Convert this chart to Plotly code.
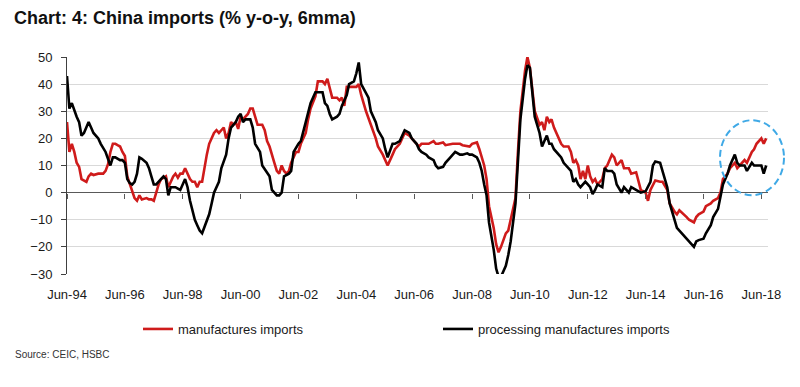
import plotly.graph_objects as go

# ---------------- data ----------------
tick_dates = ["1994-06-01", "1996-06-01", "1998-06-01", "2000-06-01", "2002-06-01",
              "2004-06-01", "2006-06-01", "2008-06-01", "2010-06-01", "2012-06-01",
              "2014-06-01", "2016-06-01", "2018-06-01"]
tick_labels = ["Jun-94", "Jun-96", "Jun-98", "Jun-00", "Jun-02", "Jun-04", "Jun-06",
               "Jun-08", "Jun-10", "Jun-12", "Jun-14", "Jun-16", "Jun-18"]

manuf_dates = [
    "1994-06", "1994-07", "1994-08", "1994-09", "1994-10", "1994-11", "1994-12",
    "1995-01", "1995-02", "1995-03", "1995-04", "1995-05", "1995-07", "1995-09", "1995-10", "1995-11", "1995-12",
    "1996-01", "1996-02", "1996-03", "1996-04", "1996-05", "1996-06", "1996-07", "1996-08", "1996-09", "1996-10", "1996-11", "1996-12",
    "1997-01", "1997-03", "1997-04", "1997-05", "1997-06", "1997-07", "1997-08", "1997-09", "1997-11", "1997-12",
    "1998-01", "1998-02", "1998-03", "1998-04", "1998-05", "1998-06", "1998-07", "1998-08", "1998-09", "1998-10", "1998-11", "1998-12",
    "1999-01", "1999-02", "1999-03", "1999-04", "1999-05", "1999-06", "1999-07", "1999-08", "1999-09", "1999-10", "1999-11", "1999-12",
    "2000-01", "2000-02", "2000-03", "2000-04", "2000-05", "2000-06", "2000-07", "2000-09", "2000-10", "2000-11", "2000-12",
    "2001-01", "2001-03", "2001-04", "2001-05", "2001-06", "2001-08", "2001-09", "2001-10", "2001-11", "2001-12",
    "2002-01", "2002-02", "2002-03", "2002-05", "2002-06", "2002-07", "2002-09", "2002-10", "2002-11",
    "2003-01", "2003-02", "2003-04", "2003-05", "2003-06", "2003-07", "2003-08", "2003-10", "2003-11", "2003-12",
    "2004-01", "2004-02", "2004-03", "2004-05", "2004-06", "2004-07", "2004-08", "2004-10", "2004-11", "2004-12",
    "2005-02", "2005-03", "2005-05", "2005-06", "2005-07", "2005-09", "2005-10", "2005-12",
    "2006-01", "2006-02", "2006-04", "2006-05", "2006-07", "2006-08", "2006-09", "2006-11", "2006-12",
    "2007-02", "2007-03", "2007-04", "2007-06", "2007-07", "2007-09", "2007-10", "2007-11",
    "2008-01", "2008-02", "2008-04", "2008-05", "2008-06", "2008-08", "2008-09", "2008-10", "2008-11", "2008-12",
    "2009-01", "2009-03", "2009-04", "2009-05", "2009-06", "2009-08", "2009-09", "2009-10", "2009-12",
    "2010-01", "2010-02", "2010-04", "2010-05", "2010-06", "2010-07", "2010-08", "2010-10", "2010-11", "2010-12",
    "2011-01", "2011-02", "2011-03", "2011-04", "2011-05", "2011-07", "2011-08", "2011-10", "2011-11", "2011-12",
    "2012-01", "2012-02", "2012-03", "2012-04", "2012-05", "2012-06", "2012-07", "2012-08", "2012-09", "2012-10", "2012-12",
    "2013-01", "2013-02", "2013-04", "2013-05", "2013-06", "2013-08", "2013-09", "2013-11", "2013-12",
    "2014-02", "2014-03", "2014-04", "2014-06", "2014-07", "2014-08", "2014-09", "2014-10", "2014-12",
    "2015-01", "2015-03", "2015-04", "2015-06", "2015-07", "2015-08", "2015-10", "2015-11", "2015-12",
    "2016-02", "2016-03", "2016-04", "2016-06", "2016-07", "2016-09", "2016-10", "2016-12",
    "2017-01", "2017-02", "2017-04", "2017-05", "2017-07", "2017-08", "2017-09", "2017-11", "2017-12",
    "2018-02", "2018-03", "2018-04", "2018-06", "2018-07", "2018-08",
]
manuf_values = [
    26, 15, 18, 15, 11, 9.5, 5,
    4.5, 4, 6, 7, 6.5, 7, 7, 8, 10.5, 15,
    18, 18, 17.5, 17, 15, 13.5, 6, 3, 0, -2, -3, -1,
    -2.5, -2, -2.5, -2.5, -3, 0, 3, 5, 6, 2,
    4, 6, 7, 5.5, 7, 7, 9, 7, 5, 4, 4, 2,
    4, 4, 9, 14, 18, 20, 22, 23, 22, 23, 24, 20,
    22, 26, 25, 26, 23.5, 28, 27, 29, 31, 31, 28,
    25, 25, 23, 19, 17, 11, 8, 7, 10, 8,
    7, 8, 11, 15, 15, 18, 22, 27, 31,
    35.5, 41, 41, 40, 42, 38, 35, 35, 34, 35,
    32, 39, 39, 39, 39, 40, 36, 30, 27, 25,
    20, 17, 14, 12, 10, 14, 16, 18,
    20, 22, 21, 20, 18, 17, 18, 18, 18,
    19, 18, 18, 18.5, 17.5, 18, 18, 18,
    18, 17.5, 17, 17, 18, 18.5, 16, 13, 10, 5,
    -5, -13, -19, -22, -20, -15, -14, -10, -2,
    15, 30, 45, 50, 46, 38, 30, 25, 26, 23,
    28, 26, 27, 24, 22, 18, 17, 17, 15, 11,
    12, 10, 5, 8, 5, 10, 6, 4, 5, 3, 5,
    9, 10, 14, 13, 10, 12, 9, 9, 7,
    7.5, 4, 1, 0, -3, 1, 3, 4.5, 4,
    4, 1, -4, -7, -8, -6.5, -8, -9, -10,
    -11, -9, -8, -7, -5, -4, -3, -2,
    0, 5, 7, 9, 11, 9, 10, 12, 11,
    15, 16, 18, 20, 18, 20,
]

proc_dates = [
    "1994-06", "1994-07", "1994-08", "1994-09", "1994-10", "1994-11", "1994-12",
    "1995-01", "1995-03", "1995-04", "1995-05", "1995-07", "1995-08", "1995-10", "1995-11", "1995-12",
    "1996-01", "1996-02", "1996-04", "1996-05", "1996-06", "1996-07", "1996-08", "1996-09", "1996-10", "1996-11", "1996-12",
    "1997-01", "1997-03", "1997-04", "1997-05", "1997-06", "1997-07", "1997-09", "1997-10", "1997-11", "1997-12",
    "1998-01", "1998-03", "1998-04", "1998-05", "1998-07", "1998-08", "1998-09", "1998-10", "1998-11", "1998-12",
    "1999-01", "1999-02", "1999-03", "1999-05", "1999-06", "1999-07", "1999-09", "1999-10", "1999-12",
    "2000-01", "2000-02", "2000-04", "2000-05", "2000-06", "2000-07", "2000-08", "2000-10", "2000-11", "2000-12",
    "2001-02", "2001-03", "2001-05", "2001-06", "2001-07", "2001-09", "2001-10", "2001-11", "2001-12",
    "2002-02", "2002-03", "2002-04", "2002-06", "2002-07", "2002-09", "2002-10", "2002-11",
    "2003-01", "2003-02", "2003-04", "2003-05", "2003-06", "2003-07", "2003-08", "2003-10", "2003-11", "2003-12",
    "2004-01", "2004-02", "2004-03", "2004-05", "2004-06", "2004-07", "2004-08", "2004-10", "2004-11", "2004-12",
    "2005-02", "2005-03", "2005-05", "2005-06", "2005-07", "2005-09", "2005-10", "2005-12",
    "2006-01", "2006-02", "2006-04", "2006-05", "2006-07", "2006-08", "2006-09", "2006-11", "2006-12",
    "2007-02", "2007-03", "2007-04", "2007-06", "2007-07", "2007-09", "2007-10", "2007-11",
    "2008-01", "2008-02", "2008-04", "2008-05", "2008-06", "2008-08", "2008-09", "2008-10", "2008-11", "2008-12",
    "2009-01", "2009-03", "2009-04", "2009-05", "2009-06", "2009-08", "2009-09", "2009-10", "2009-12",
    "2010-01", "2010-02", "2010-04", "2010-05", "2010-06", "2010-07", "2010-08", "2010-10", "2010-11", "2010-12",
    "2011-01", "2011-02", "2011-03", "2011-04", "2011-05", "2011-07", "2011-08", "2011-10", "2011-11", "2011-12",
    "2012-01", "2012-02", "2012-03", "2012-04", "2012-05", "2012-06", "2012-07", "2012-08", "2012-09", "2012-10", "2012-12",
    "2013-01", "2013-02", "2013-04", "2013-05", "2013-06", "2013-08", "2013-09", "2013-11", "2013-12",
    "2014-02", "2014-03", "2014-04", "2014-06", "2014-07", "2014-08", "2014-09", "2014-10", "2014-12",
    "2015-01", "2015-03", "2015-04", "2015-06", "2015-07", "2015-08", "2015-10", "2015-11", "2015-12",
    "2016-02", "2016-03", "2016-04", "2016-06", "2016-07", "2016-09", "2016-10", "2016-12",
    "2017-01", "2017-02", "2017-04", "2017-05", "2017-07", "2017-08", "2017-09", "2017-11", "2017-12",
    "2018-02", "2018-03", "2018-04", "2018-06", "2018-07", "2018-08",
]
proc_values = [
    43, 31, 33, 30, 28, 26, 21,
    22, 26, 24, 22, 20, 18, 15, 12, 10,
    13, 13, 12, 12, 11, 5, 3.5, 3, 4, 7, 13,
    12.5, 11, 9, 6, 3, 3, 5, 6, 5, -1,
    2, 2, 1.5, 1, 5, 2, -3, -7, -10, -12,
    -14, -15, -13, -8, -4, 0, 4, 9, 14,
    20, 24, 26, 28, 29, 26, 27, 27, 24, 18,
    15, 10, 7, 6, 1, -1, -1, 0, 6,
    7, 8, 15, 18, 19, 26, 30, 33,
    37, 37, 37, 33, 32, 29, 27, 28, 29, 32,
    34, 36, 40, 41, 44, 48, 40, 37, 35, 30,
    26, 23, 20, 16, 13, 18, 18, 19,
    21, 23, 22, 20, 18, 16, 15, 14, 13,
    12, 10, 9, 9.5, 11, 13, 14, 15,
    14, 14, 14.5, 14, 14, 13, 11, 8, 3, -1,
    -11, -21, -28, -31, -31, -27, -23, -18, -4,
    10, 27, 42, 47, 46, 37, 28, 22, 17, 19,
    21, 18, 18, 16, 15, 13, 11, 9, 8, 4,
    5, 3, 2, 3, 4, 3, 2, -0.5, 1, 3, 2,
    9, 8, 8, 7, 3, 0, 2, 0, 2,
    1, 0.5, 0, 0.5, 2, 4, 10, 11.5, 11,
    8, 2, -4, -10, -13, -14, -16, -17, -18,
    -20, -18, -17.5, -17, -15, -12, -9, -6,
    -2, 3, 7, 10, 14, 11, 10, 10, 8,
    11, 10, 10, 10, 7, 10,
]

assert len(manuf_dates) == len(manuf_values)
assert len(proc_dates) == len(proc_values)

# ---------------- styling ----------------
FONT = "Liberation Sans, Arial, Helvetica, sans-serif"
RED = "#cf1b1b"
BLACK = "#000000"
X_RANGE = ["1994-06-01", "2018-08-24"]

fig = go.Figure()
fig.add_trace(go.Scatter(x=manuf_dates, y=manuf_values, name="manufactures imports",
                         mode="lines", line=dict(color=RED, width=2.6)))
fig.add_trace(go.Scatter(x=proc_dates, y=proc_values, name="processing manufactures imports",
                         mode="lines", line=dict(color=BLACK, width=2.6)))
# carrier trace for the tick marks drawn on the zero line
fig.add_trace(go.Scatter(x=[], y=[], xaxis="x2", showlegend=False, hoverinfo="skip"))

fig.update_layout(
    width=800, height=387,
    margin=dict(l=67, r=32, t=57, b=107, pad=0),
    paper_bgcolor="white", plot_bgcolor="white",
    font=dict(family=FONT, size=13, color="#1a1a1a"),
    title=dict(text="<b>Chart: 4: China imports (% y-o-y, 6mma)</b>",
               font=dict(family=FONT, size=18, color="#111111"),
               x=14 / 800, xref="container", xanchor="left",
               y=1 - 18 / 387, yref="container", yanchor="middle"),
    xaxis=dict(type="date", range=X_RANGE, tickvals=tick_dates, ticktext=tick_labels,
               ticks="", showgrid=False, showline=False, zeroline=False,
               tickfont=dict(size=13, color="#1a1a1a"), ticklabelstandoff=11),
    xaxis2=dict(type="date", range=X_RANGE, overlaying="x", anchor="free", position=0.375,
                side="bottom", tickvals=tick_dates, ticks="outside", ticklen=5, tickwidth=1,
                tickcolor="#595959", showticklabels=False, showgrid=False,
                showline=False, zeroline=False),
    yaxis=dict(range=[-30, 50], tickvals=[-30, -20, -10, 0, 10, 20, 30, 40, 50],
               showgrid=True, gridcolor="#d9d9d9", gridwidth=1,
               zeroline=True, zerolinecolor="#595959", zerolinewidth=1,
               showline=True, linecolor="#404040", linewidth=1,
               ticks="outside", ticklen=5, tickcolor="#404040",
               tickfont=dict(size=13, color="#1a1a1a"), ticklabelstandoff=6),
    legend=dict(orientation="h", xref="container", yref="container",
                x=138 / 800, y=1 - 314 / 387, xanchor="left", yanchor="top",
                entrywidth=255, entrywidthmode="pixels",
                font=dict(family=FONT, size=13, color="#1a1a1a"),
                bgcolor="rgba(0,0,0,0)", traceorder="normal"),
    shapes=[dict(type="circle", xref="paper", yref="paper",
                 x0=(720 - 67) / 701, x1=(784 - 67) / 701,
                 y0=(280 - 199) / 223, y1=(280 - 122) / 223,
                 line=dict(color="#3fa9e6", width=2, dash="7px,4px"))],
    annotations=[dict(text="Source: CEIC, HSBC", xref="paper", yref="paper",
                      x=(13 - 67) / 701, y=(280 - 363) / 223,
                      xanchor="left", yanchor="middle", showarrow=False,
                      font=dict(family=FONT, size=10, color="#333333"))],
)

fig.write_html("out.html", config={"displayModeBar": False},
               post_script="document.body.style.margin='0';")
